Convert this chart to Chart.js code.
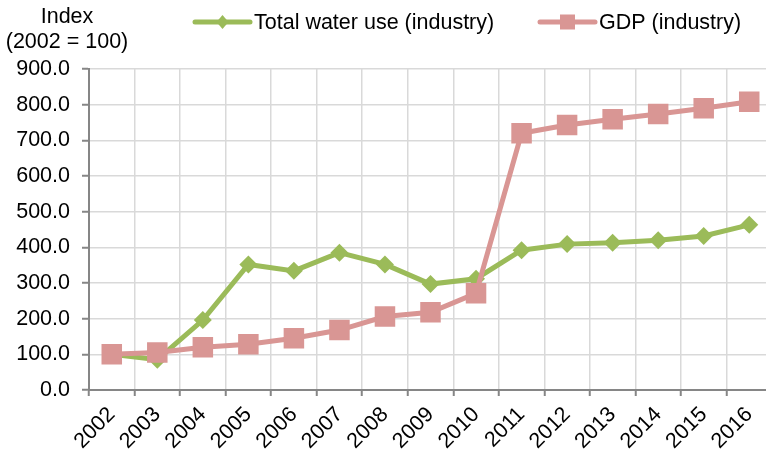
<!DOCTYPE html>
<html>
<head>
<meta charset="utf-8">
<script src="https://cdn.jsdelivr.net/npm/chart.js@4/dist/chart.umd.min.js"></script>
<style>
    html, body { margin: 0; padding: 0; background: #fff; overflow: hidden; }
    /* the plot in the original runs a few px past the right edge */
    #wrap { width: 772px; height: 452px; position: relative; }
</style>
</head>
<body>
<div id="wrap"><canvas id="industryindex"></canvas></div>
<script>
// chart data
var years = ['2002', '2003', '2004', '2005', '2006', '2007', '2008', '2009', '2010', '2011', '2012', '2013', '2014', '2015', '2016']
var waterUse = [100, 85, 196, 352, 334, 385, 352, 297, 312, 392, 409, 413, 420, 432, 463]
var gdp = [100, 105, 120, 128, 145, 168, 206, 218, 271, 720, 743, 759, 774, 790, 808]
var seriesNames = ['Total water use (industry)', 'GDP (industry)']
var yTitle = ['Index', '(2002 = 100)']

var FONT = '"Liberation Sans", Arial, sans-serif'
var FONT_SIZE = 21.5
var green = '#9BBB59'
var pink = '#D99694'

Chart.defaults.font.family = FONT
Chart.defaults.font.size = FONT_SIZE
Chart.defaults.color = '#000'

//-------------
//- LEGEND + AXIS TITLE -
//-------------
// drawn by hand so the spacing matches the original layout
var extraText = {
    id: 'extraText',
    afterDraw: function (chart) {
        var ctx = chart.ctx
        ctx.save()
        ctx.font = FONT_SIZE + 'px ' + FONT
        ctx.fillStyle = '#000'
        ctx.textBaseline = 'middle'
        ctx.textAlign = 'center'
        ctx.fillText(yTitle[0], 67, 17)
        ctx.fillText(yTitle[1], 67, 42)

        var items = [
            { x: 195, color: green, marker: 'diamond' },
            { x: 540, color: pink, marker: 'square' }
        ]
        var y = 22
        items.forEach(function (it, i) {
            ctx.strokeStyle = it.color
            ctx.fillStyle = it.color
            ctx.lineWidth = 5
            ctx.lineCap = 'round'
            ctx.beginPath()
            ctx.moveTo(it.x, y)
            ctx.lineTo(it.x + 55, y)
            ctx.stroke()
            var cx = it.x + 27.5
            ctx.beginPath()
            if (it.marker === 'diamond') {
                ctx.moveTo(cx, y - 7)
                ctx.lineTo(cx + 6, y)
                ctx.lineTo(cx, y + 7)
                ctx.lineTo(cx - 6, y)
                ctx.closePath()
                ctx.fill()
            } else {
                ctx.fillRect(cx - 7.5, y - 7.5, 15, 15)
            }
            ctx.fillStyle = '#000'
            ctx.textAlign = 'left'
            ctx.fillText(seriesNames[i], it.x + 59, y + 1)
        })
        ctx.restore()
    }
}

//-------------
//- LINE CHART -
//-------------
var lineCanvas = document.getElementById('industryindex').getContext('2d')
var lineData = {
    labels: years,
    datasets: [
        {
            label: seriesNames[0],
            data: waterUse,
            borderColor: green,
            backgroundColor: green,
            borderWidth: 5,
            pointStyle: 'rectRot',
            pointRadius: 9,
            pointBorderWidth: 0,
            tension: 0,
            order: 1
        },
        {
            label: seriesNames[1],
            data: gdp,
            borderColor: pink,
            backgroundColor: pink,
            borderWidth: 5,
            pointStyle: 'rect',
            pointRadius: 14.5,
            pointBorderWidth: 0,
            tension: 0,
            order: 0
        }
    ]
}
var lineOptions = {
    maintainAspectRatio: false,
    responsive: true,
    animation: false,
    layout: { autoPadding: false, padding: { top: 69, right: 0, left: 0, bottom: 0 } },
    plugins: {
        legend: { display: false },
        tooltip: { enabled: false }
    },
    scales: {
        x: {
            offset: true,
            grid: { offset: true, color: '#D9D9D9', lineWidth: 1.5, tickLength: 6, tickColor: '#868686', tickWidth: 2 },
            border: { color: '#868686', width: 2 },
            ticks: { minRotation: 45, maxRotation: 45, autoSkip: false, padding: 6, color: '#000' },
            afterFit: function (scale) {
                scale.height = 62
                // rotated labels should not shrink the plot
                scale.paddingLeft = 0
                scale.paddingRight = 0
            }
        },
        y: {
            min: 0,
            max: 900,
            ticks: {
                stepSize: 100,
                padding: 12,
                color: '#000',
                callback: function (v) { return v.toFixed(1) }
            },
            grid: { color: '#D9D9D9', lineWidth: 1.5, tickLength: 7, tickColor: '#868686', tickWidth: 2 },
            border: { color: '#868686', width: 2 },
            afterFit: function (scale) { scale.width = 89 }
        }
    }
}
new Chart(lineCanvas, {
    type: 'line',
    data: lineData,
    options: lineOptions,
    plugins: [extraText]
})
</script>
</body>
</html>
